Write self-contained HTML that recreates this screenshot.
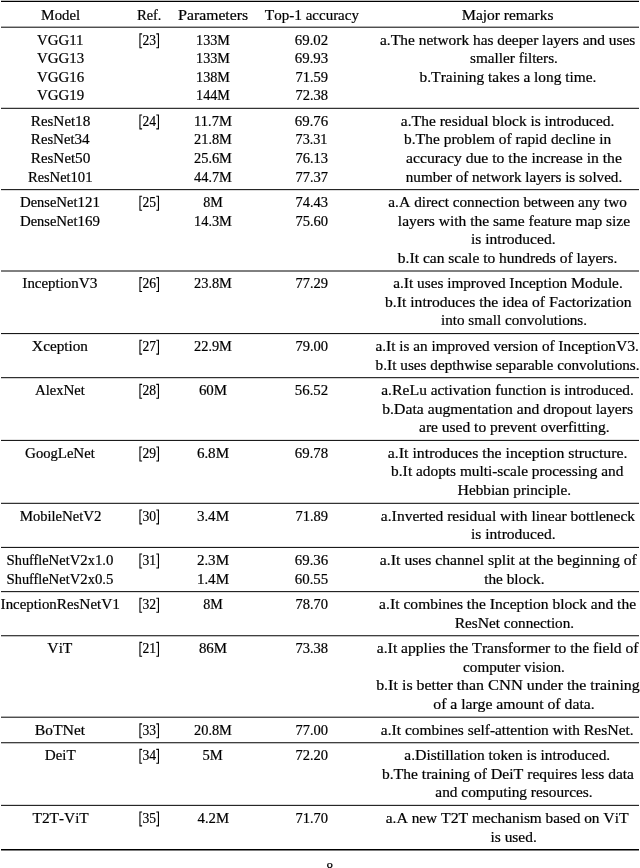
<!DOCTYPE html>
<html><head><meta charset="utf-8"><style>
html,body{margin:0;padding:0;background:#fff;width:640px;height:868px;overflow:hidden}
svg{display:block}
text{font-family:"Liberation Serif",serif;font-size:14.0px;text-anchor:middle;fill:#000;}
.B{font-size:14.5px}
svg{will-change:transform} text{stroke:#000;stroke-width:0.2px}
</style></head><body>
<svg width="640" height="868" viewBox="0 0 640 868">
<path d="M1 1.4H639" stroke="#000" stroke-width="1.15"/>
<path d="M1 27.20H639" stroke="#000" stroke-width="1.0"/>
<path d="M1 108.30H639" stroke="#000" stroke-width="1.0"/>
<path d="M1 189.65H639" stroke="#000" stroke-width="1.0"/>
<path d="M1 271.00H639" stroke="#000" stroke-width="1.0"/>
<path d="M1 333.60H639" stroke="#000" stroke-width="1.0"/>
<path d="M1 377.70H639" stroke="#000" stroke-width="1.0"/>
<path d="M1 440.40H639" stroke="#000" stroke-width="1.0"/>
<path d="M1 503.30H639" stroke="#000" stroke-width="1.0"/>
<path d="M1 547.40H639" stroke="#000" stroke-width="1.0"/>
<path d="M1 591.65H639" stroke="#000" stroke-width="1.0"/>
<path d="M1 635.75H639" stroke="#000" stroke-width="1.0"/>
<path d="M1 717.20H639" stroke="#000" stroke-width="1.0"/>
<path d="M1 742.75H639" stroke="#000" stroke-width="1.0"/>
<path d="M1 805.35H639" stroke="#000" stroke-width="1.0"/>
<path d="M1 849.80H639" stroke="#000" stroke-width="1.45"/>
<text id="h0" x="60.60" y="19.60" textLength="38.98" lengthAdjust="spacingAndGlyphs"><tspan class="B">M</tspan>odel</text>
<text id="h1" x="149.20" y="19.60" textLength="24.52" lengthAdjust="spacingAndGlyphs"><tspan class="B">R</tspan>ef.</text>
<text id="h2" x="213.00" y="19.60" textLength="70.06" lengthAdjust="spacingAndGlyphs"><tspan class="B">P</tspan>arameters</text>
<text id="h3" x="311.85" y="19.60" textLength="94.10" lengthAdjust="spacingAndGlyphs"><tspan class="B">T</tspan>op-<tspan class="B">1</tspan> accuracy</text>
<text id="h4" x="507.60" y="19.60" textLength="91.80" lengthAdjust="spacingAndGlyphs"><tspan class="B">M</tspan>ajor remarks</text>
<text id="r0m0" x="60.25" y="44.55" textLength="46.42" lengthAdjust="spacingAndGlyphs"><tspan class="B">VGG11</tspan></text>
<text id="r0m1" x="60.60" y="63.08" textLength="47.14" lengthAdjust="spacingAndGlyphs"><tspan class="B">VGG13</tspan></text>
<text id="r0m2" x="60.60" y="81.62" textLength="47.14" lengthAdjust="spacingAndGlyphs"><tspan class="B">VGG16</tspan></text>
<text id="r0m3" x="60.60" y="100.15" textLength="47.14" lengthAdjust="spacingAndGlyphs"><tspan class="B">VGG19</tspan></text>
<path d="M142.10 33.85H139.95V47.75H142.10" fill="none" stroke="#000" stroke-width="1.1"/>
<path d="M156.30 33.85H158.45V47.75H156.30" fill="none" stroke="#000" stroke-width="1.1"/>
<text id="r0ref" x="149.20" y="44.55" class="B" textLength="13.6" lengthAdjust="spacingAndGlyphs">23</text>
<text id="r0p0" x="213.00" y="44.55" textLength="33.86" lengthAdjust="spacingAndGlyphs"><tspan class="B">133M</tspan></text>
<text id="r0p1" x="213.00" y="63.08" textLength="33.86" lengthAdjust="spacingAndGlyphs"><tspan class="B">133M</tspan></text>
<text id="r0p2" x="213.00" y="81.62" textLength="33.86" lengthAdjust="spacingAndGlyphs"><tspan class="B">138M</tspan></text>
<text id="r0p3" x="213.00" y="100.15" textLength="33.86" lengthAdjust="spacingAndGlyphs"><tspan class="B">144M</tspan></text>
<text id="r0a0" x="311.50" y="44.55" textLength="33.32" lengthAdjust="spacingAndGlyphs"><tspan class="B">69</tspan>.<tspan class="B">02</tspan></text>
<text id="r0a1" x="311.50" y="63.08" textLength="33.32" lengthAdjust="spacingAndGlyphs"><tspan class="B">69</tspan>.<tspan class="B">93</tspan></text>
<text id="r0a2" x="311.85" y="81.62" textLength="32.60" lengthAdjust="spacingAndGlyphs"><tspan class="B">71</tspan>.<tspan class="B">59</tspan></text>
<text id="r0a3" x="311.85" y="100.15" textLength="32.60" lengthAdjust="spacingAndGlyphs"><tspan class="B">72</tspan>.<tspan class="B">38</tspan></text>
<text id="r0x0" x="507.60" y="44.55" textLength="255.25" lengthAdjust="spacingAndGlyphs">a.<tspan class="B">T</tspan>he network has deeper layers and uses</text>
<text id="r0x1" x="514.00" y="63.08" textLength="87.83" lengthAdjust="spacingAndGlyphs">smaller filters.</text>
<text id="r0x2" x="507.95" y="81.62" textLength="176.89" lengthAdjust="spacingAndGlyphs">b.<tspan class="B">T</tspan>raining takes a long time.</text>
<text id="r1m0" x="60.60" y="125.65" textLength="59.52" lengthAdjust="spacingAndGlyphs"><tspan class="B">R</tspan>es<tspan class="B">N</tspan>et<tspan class="B">18</tspan></text>
<text id="r1m1" x="60.25" y="144.27" textLength="58.82" lengthAdjust="spacingAndGlyphs"><tspan class="B">R</tspan>es<tspan class="B">N</tspan>et<tspan class="B">34</tspan></text>
<text id="r1m2" x="60.60" y="162.88" textLength="59.52" lengthAdjust="spacingAndGlyphs"><tspan class="B">R</tspan>es<tspan class="B">N</tspan>et<tspan class="B">50</tspan></text>
<text id="r1m3" x="60.25" y="181.50" textLength="64.55" lengthAdjust="spacingAndGlyphs"><tspan class="B">R</tspan>es<tspan class="B">N</tspan>et<tspan class="B">101</tspan></text>
<path d="M142.10 114.95H139.95V128.85H142.10" fill="none" stroke="#000" stroke-width="1.1"/>
<path d="M156.30 114.95H158.45V128.85H156.30" fill="none" stroke="#000" stroke-width="1.1"/>
<text id="r1ref" x="149.20" y="125.65" class="B" textLength="13.6" lengthAdjust="spacingAndGlyphs">24</text>
<text id="r1p0" x="213.00" y="125.65" textLength="37.85" lengthAdjust="spacingAndGlyphs"><tspan class="B">11</tspan>.<tspan class="B">7M</tspan></text>
<text id="r1p1" x="213.00" y="144.27" textLength="37.87" lengthAdjust="spacingAndGlyphs"><tspan class="B">21</tspan>.<tspan class="B">8M</tspan></text>
<text id="r1p2" x="213.00" y="162.88" textLength="37.87" lengthAdjust="spacingAndGlyphs"><tspan class="B">25</tspan>.<tspan class="B">6M</tspan></text>
<text id="r1p3" x="213.00" y="181.50" textLength="37.87" lengthAdjust="spacingAndGlyphs"><tspan class="B">44</tspan>.<tspan class="B">7M</tspan></text>
<text id="r1a0" x="311.50" y="125.65" textLength="33.32" lengthAdjust="spacingAndGlyphs"><tspan class="B">69</tspan>.<tspan class="B">76</tspan></text>
<text id="r1a1" x="311.50" y="144.27" textLength="31.88" lengthAdjust="spacingAndGlyphs"><tspan class="B">73</tspan>.<tspan class="B">31</tspan></text>
<text id="r1a2" x="311.85" y="162.88" textLength="32.60" lengthAdjust="spacingAndGlyphs"><tspan class="B">76</tspan>.<tspan class="B">13</tspan></text>
<text id="r1a3" x="311.85" y="181.50" textLength="32.60" lengthAdjust="spacingAndGlyphs"><tspan class="B">77</tspan>.<tspan class="B">37</tspan></text>
<text id="r1x0" x="507.60" y="125.65" textLength="213.54" lengthAdjust="spacingAndGlyphs">a.<tspan class="B">T</tspan>he residual block is introduced.</text>
<text id="r1x1" x="507.60" y="144.27" textLength="207.04" lengthAdjust="spacingAndGlyphs">b.<tspan class="B">T</tspan>he problem of rapid decline in</text>
<text id="r1x2" x="514.00" y="162.88" textLength="215.83" lengthAdjust="spacingAndGlyphs">accuracy due to the increase in the</text>
<text id="r1x3" x="514.00" y="181.50" textLength="216.41" lengthAdjust="spacingAndGlyphs">number of network layers is solved.</text>
<text id="r2m0" x="59.90" y="207.00" textLength="79.99" lengthAdjust="spacingAndGlyphs"><tspan class="B">D</tspan>ense<tspan class="B">N</tspan>et<tspan class="B">121</tspan></text>
<text id="r2m1" x="59.90" y="225.62" textLength="80.01" lengthAdjust="spacingAndGlyphs"><tspan class="B">D</tspan>ense<tspan class="B">N</tspan>et<tspan class="B">169</tspan></text>
<path d="M142.10 196.30H139.95V210.20H142.10" fill="none" stroke="#000" stroke-width="1.1"/>
<path d="M156.30 196.30H158.45V210.20H156.30" fill="none" stroke="#000" stroke-width="1.1"/>
<text id="r2ref" x="149.20" y="207.00" class="B" textLength="13.6" lengthAdjust="spacingAndGlyphs">25</text>
<text id="r2p0" x="213.00" y="207.00" textLength="19.56" lengthAdjust="spacingAndGlyphs"><tspan class="B">8M</tspan></text>
<text id="r2p1" x="213.00" y="225.62" textLength="37.85" lengthAdjust="spacingAndGlyphs"><tspan class="B">14</tspan>.<tspan class="B">3M</tspan></text>
<text id="r2a0" x="311.85" y="207.00" textLength="32.60" lengthAdjust="spacingAndGlyphs"><tspan class="B">74</tspan>.<tspan class="B">43</tspan></text>
<text id="r2a1" x="311.85" y="225.62" textLength="32.60" lengthAdjust="spacingAndGlyphs"><tspan class="B">75</tspan>.<tspan class="B">60</tspan></text>
<text id="r2x0" x="507.60" y="207.00" textLength="238.55" lengthAdjust="spacingAndGlyphs">a.<tspan class="B">A</tspan> direct connection between any two</text>
<text id="r2x1" x="514.00" y="225.62" textLength="232.26" lengthAdjust="spacingAndGlyphs">layers with the same feature map size</text>
<text id="r2x2" x="513.30" y="244.23" textLength="84.55" lengthAdjust="spacingAndGlyphs">is introduced.</text>
<text id="r2x3" x="507.60" y="262.85" textLength="219.57" lengthAdjust="spacingAndGlyphs">b.<tspan class="B">I</tspan>t can scale to hundreds of layers.</text>
<text id="r3m0" x="59.90" y="288.35" textLength="75.19" lengthAdjust="spacingAndGlyphs"><tspan class="B">I</tspan>nception<tspan class="B">V3</tspan></text>
<path d="M142.10 277.65H139.95V291.55H142.10" fill="none" stroke="#000" stroke-width="1.1"/>
<path d="M156.30 277.65H158.45V291.55H156.30" fill="none" stroke="#000" stroke-width="1.1"/>
<text id="r3ref" x="149.20" y="288.35" class="B" textLength="13.6" lengthAdjust="spacingAndGlyphs">26</text>
<text id="r3p0" x="213.00" y="288.35" textLength="37.87" lengthAdjust="spacingAndGlyphs"><tspan class="B">23</tspan>.<tspan class="B">8M</tspan></text>
<text id="r3a0" x="311.85" y="288.35" textLength="32.60" lengthAdjust="spacingAndGlyphs"><tspan class="B">77</tspan>.<tspan class="B">29</tspan></text>
<text id="r3x0" x="507.95" y="288.35" textLength="229.50" lengthAdjust="spacingAndGlyphs">a.<tspan class="B">I</tspan>t uses improved <tspan class="B">I</tspan>nception <tspan class="B">M</tspan>odule.</text>
<text id="r3x1" x="508.30" y="306.90" textLength="246.70" lengthAdjust="spacingAndGlyphs">b.<tspan class="B">I</tspan>t introduces the idea of <tspan class="B">F</tspan>actorization</text>
<text id="r3x2" x="514.00" y="325.45" textLength="146.02" lengthAdjust="spacingAndGlyphs">into small convolutions.</text>
<text id="r4m0" x="59.90" y="350.95" textLength="56.10" lengthAdjust="spacingAndGlyphs"><tspan class="B">X</tspan>ception</text>
<path d="M142.10 340.25H139.95V354.15H142.10" fill="none" stroke="#000" stroke-width="1.1"/>
<path d="M156.30 340.25H158.45V354.15H156.30" fill="none" stroke="#000" stroke-width="1.1"/>
<text id="r4ref" x="149.20" y="350.95" class="B" textLength="13.6" lengthAdjust="spacingAndGlyphs">27</text>
<text id="r4p0" x="213.00" y="350.95" textLength="37.87" lengthAdjust="spacingAndGlyphs"><tspan class="B">22</tspan>.<tspan class="B">9M</tspan></text>
<text id="r4a0" x="311.85" y="350.95" textLength="32.60" lengthAdjust="spacingAndGlyphs"><tspan class="B">79</tspan>.<tspan class="B">00</tspan></text>
<text id="r4x0" x="507.25" y="350.95" textLength="263.36" lengthAdjust="spacingAndGlyphs">a.<tspan class="B">I</tspan>t is an improved version of <tspan class="B">I</tspan>nception<tspan class="B">V3</tspan>.</text>
<text id="r4x1" x="507.60" y="369.55" textLength="264.02" lengthAdjust="spacingAndGlyphs">b.<tspan class="B">I</tspan>t uses depthwise separable convolutions.</text>
<text id="r5m0" x="59.90" y="395.05" textLength="49.89" lengthAdjust="spacingAndGlyphs"><tspan class="B">A</tspan>lex<tspan class="B">N</tspan>et</text>
<path d="M142.10 384.35H139.95V398.25H142.10" fill="none" stroke="#000" stroke-width="1.1"/>
<path d="M156.30 384.35H158.45V398.25H156.30" fill="none" stroke="#000" stroke-width="1.1"/>
<text id="r5ref" x="149.20" y="395.05" class="B" textLength="13.6" lengthAdjust="spacingAndGlyphs">28</text>
<text id="r5p0" x="213.00" y="395.05" textLength="28.15" lengthAdjust="spacingAndGlyphs"><tspan class="B">60M</tspan></text>
<text id="r5a0" x="311.50" y="395.05" textLength="33.32" lengthAdjust="spacingAndGlyphs"><tspan class="B">56</tspan>.<tspan class="B">52</tspan></text>
<text id="r5x0" x="507.60" y="395.05" textLength="252.60" lengthAdjust="spacingAndGlyphs">a.<tspan class="B">R</tspan>e<tspan class="B">L</tspan>u activation function is introduced.</text>
<text id="r5x1" x="507.60" y="413.65" textLength="250.88" lengthAdjust="spacingAndGlyphs">b.<tspan class="B">D</tspan>ata augmentation and dropout layers</text>
<text id="r5x2" x="514.35" y="432.25" textLength="190.70" lengthAdjust="spacingAndGlyphs">are used to prevent overfitting.</text>
<text id="r6m0" x="59.90" y="457.75" textLength="69.69" lengthAdjust="spacingAndGlyphs"><tspan class="B">G</tspan>oog<tspan class="B">L</tspan>e<tspan class="B">N</tspan>et</text>
<path d="M142.10 447.05H139.95V460.95H142.10" fill="none" stroke="#000" stroke-width="1.1"/>
<path d="M156.30 447.05H158.45V460.95H156.30" fill="none" stroke="#000" stroke-width="1.1"/>
<text id="r6ref" x="149.20" y="457.75" class="B" textLength="13.6" lengthAdjust="spacingAndGlyphs">29</text>
<text id="r6p0" x="213.00" y="457.75" textLength="32.14" lengthAdjust="spacingAndGlyphs"><tspan class="B">6</tspan>.<tspan class="B">8M</tspan></text>
<text id="r6a0" x="311.50" y="457.75" textLength="33.32" lengthAdjust="spacingAndGlyphs"><tspan class="B">69</tspan>.<tspan class="B">78</tspan></text>
<text id="r6x0" x="507.60" y="457.75" textLength="239.84" lengthAdjust="spacingAndGlyphs">a.<tspan class="B">I</tspan>t introduces the inception structure.</text>
<text id="r6x1" x="507.25" y="476.45" textLength="232.22" lengthAdjust="spacingAndGlyphs">b.<tspan class="B">I</tspan>t adopts multi-scale processing and</text>
<text id="r6x2" x="514.35" y="495.15" textLength="113.62" lengthAdjust="spacingAndGlyphs"><tspan class="B">H</tspan>ebbian principle.</text>
<text id="r7m0" x="60.60" y="520.65" textLength="81.72" lengthAdjust="spacingAndGlyphs"><tspan class="B">M</tspan>obile<tspan class="B">N</tspan>et<tspan class="B">V2</tspan></text>
<path d="M142.10 509.95H139.95V523.85H142.10" fill="none" stroke="#000" stroke-width="1.1"/>
<path d="M156.30 509.95H158.45V523.85H156.30" fill="none" stroke="#000" stroke-width="1.1"/>
<text id="r7ref" x="149.20" y="520.65" class="B" textLength="13.6" lengthAdjust="spacingAndGlyphs">30</text>
<text id="r7p0" x="213.00" y="520.65" textLength="32.14" lengthAdjust="spacingAndGlyphs"><tspan class="B">3</tspan>.<tspan class="B">4M</tspan></text>
<text id="r7a0" x="311.85" y="520.65" textLength="32.60" lengthAdjust="spacingAndGlyphs"><tspan class="B">71</tspan>.<tspan class="B">89</tspan></text>
<text id="r7x0" x="507.95" y="520.65" textLength="254.20" lengthAdjust="spacingAndGlyphs">a.<tspan class="B">I</tspan>nverted residual with linear bottleneck</text>
<text id="r7x1" x="513.30" y="539.25" textLength="84.55" lengthAdjust="spacingAndGlyphs">is introduced.</text>
<text id="r8m0" x="59.90" y="564.75" textLength="106.80" lengthAdjust="spacingAndGlyphs"><tspan class="B">S</tspan>huffle<tspan class="B">N</tspan>et<tspan class="B">V2</tspan>x<tspan class="B">1</tspan>.<tspan class="B">0</tspan></text>
<text id="r8m1" x="59.90" y="583.50" textLength="106.80" lengthAdjust="spacingAndGlyphs"><tspan class="B">S</tspan>huffle<tspan class="B">N</tspan>et<tspan class="B">V2</tspan>x<tspan class="B">0</tspan>.<tspan class="B">5</tspan></text>
<path d="M142.10 554.05H139.95V567.95H142.10" fill="none" stroke="#000" stroke-width="1.1"/>
<path d="M156.30 554.05H158.45V567.95H156.30" fill="none" stroke="#000" stroke-width="1.1"/>
<text id="r8ref" x="149.20" y="564.75" class="B" textLength="13.6" lengthAdjust="spacingAndGlyphs">31</text>
<text id="r8p0" x="213.00" y="564.75" textLength="32.14" lengthAdjust="spacingAndGlyphs"><tspan class="B">2</tspan>.<tspan class="B">3M</tspan></text>
<text id="r8p1" x="213.00" y="583.50" textLength="32.11" lengthAdjust="spacingAndGlyphs"><tspan class="B">1</tspan>.<tspan class="B">4M</tspan></text>
<text id="r8a0" x="311.50" y="564.75" textLength="33.32" lengthAdjust="spacingAndGlyphs"><tspan class="B">69</tspan>.<tspan class="B">36</tspan></text>
<text id="r8a1" x="311.50" y="583.50" textLength="33.32" lengthAdjust="spacingAndGlyphs"><tspan class="B">60</tspan>.<tspan class="B">55</tspan></text>
<text id="r8x0" x="508.30" y="564.75" textLength="256.93" lengthAdjust="spacingAndGlyphs">a.<tspan class="B">I</tspan>t uses channel split at the beginning of</text>
<text id="r8x1" x="514.35" y="583.50" textLength="60.24" lengthAdjust="spacingAndGlyphs">the block.</text>
<text id="r9m0" x="60.25" y="609.00" textLength="119.47" lengthAdjust="spacingAndGlyphs"><tspan class="B">I</tspan>nception<tspan class="B">R</tspan>es<tspan class="B">N</tspan>et<tspan class="B">V1</tspan></text>
<path d="M142.10 598.30H139.95V612.20H142.10" fill="none" stroke="#000" stroke-width="1.1"/>
<path d="M156.30 598.30H158.45V612.20H156.30" fill="none" stroke="#000" stroke-width="1.1"/>
<text id="r9ref" x="149.20" y="609.00" class="B" textLength="13.6" lengthAdjust="spacingAndGlyphs">32</text>
<text id="r9p0" x="213.00" y="609.00" textLength="19.56" lengthAdjust="spacingAndGlyphs"><tspan class="B">8M</tspan></text>
<text id="r9a0" x="311.85" y="609.00" textLength="32.60" lengthAdjust="spacingAndGlyphs"><tspan class="B">78</tspan>.<tspan class="B">70</tspan></text>
<text id="r9x0" x="507.60" y="609.00" textLength="256.92" lengthAdjust="spacingAndGlyphs">a.<tspan class="B">I</tspan>t combines the <tspan class="B">I</tspan>nception block and the</text>
<text id="r9x1" x="514.35" y="627.60" textLength="119.38" lengthAdjust="spacingAndGlyphs"><tspan class="B">R</tspan>es<tspan class="B">N</tspan>et connection.</text>
<text id="r10m0" x="59.90" y="653.10" textLength="25.06" lengthAdjust="spacingAndGlyphs"><tspan class="B">V</tspan>i<tspan class="B">T</tspan></text>
<path d="M142.10 642.40H139.95V656.30H142.10" fill="none" stroke="#000" stroke-width="1.1"/>
<path d="M156.30 642.40H158.45V656.30H156.30" fill="none" stroke="#000" stroke-width="1.1"/>
<text id="r10ref" x="149.20" y="653.10" class="B" textLength="13.6" lengthAdjust="spacingAndGlyphs">21</text>
<text id="r10p0" x="213.00" y="653.10" textLength="28.15" lengthAdjust="spacingAndGlyphs"><tspan class="B">86M</tspan></text>
<text id="r10a0" x="311.85" y="653.10" textLength="32.60" lengthAdjust="spacingAndGlyphs"><tspan class="B">73</tspan>.<tspan class="B">38</tspan></text>
<text id="r10x0" x="507.60" y="653.10" textLength="261.76" lengthAdjust="spacingAndGlyphs">a.<tspan class="B">I</tspan>t applies the <tspan class="B">T</tspan>ransformer to the field of</text>
<text id="r10x1" x="514.00" y="671.75" textLength="101.83" lengthAdjust="spacingAndGlyphs">computer vision.</text>
<text id="r10x2" x="507.95" y="690.40" textLength="263.55" lengthAdjust="spacingAndGlyphs">b.<tspan class="B">I</tspan>t is better than <tspan class="B">CNN</tspan> under the training</text>
<text id="r10x3" x="514.00" y="709.05" textLength="161.42" lengthAdjust="spacingAndGlyphs">of a large amount of data.</text>
<text id="r11m0" x="59.90" y="734.55" textLength="50.31" lengthAdjust="spacingAndGlyphs"><tspan class="B">B</tspan>o<tspan class="B">TN</tspan>et</text>
<path d="M142.10 723.85H139.95V737.75H142.10" fill="none" stroke="#000" stroke-width="1.1"/>
<path d="M156.30 723.85H158.45V737.75H156.30" fill="none" stroke="#000" stroke-width="1.1"/>
<text id="r11ref" x="149.20" y="734.55" class="B" textLength="13.6" lengthAdjust="spacingAndGlyphs">33</text>
<text id="r11p0" x="213.00" y="734.55" textLength="37.87" lengthAdjust="spacingAndGlyphs"><tspan class="B">20</tspan>.<tspan class="B">8M</tspan></text>
<text id="r11a0" x="311.85" y="734.55" textLength="32.60" lengthAdjust="spacingAndGlyphs"><tspan class="B">77</tspan>.<tspan class="B">00</tspan></text>
<text id="r11x0" x="507.25" y="734.55" textLength="252.78" lengthAdjust="spacingAndGlyphs">a.<tspan class="B">I</tspan>t combines self-attention with <tspan class="B">R</tspan>es<tspan class="B">N</tspan>et.</text>
<text id="r12m0" x="60.25" y="760.10" textLength="30.89" lengthAdjust="spacingAndGlyphs"><tspan class="B">D</tspan>ei<tspan class="B">T</tspan></text>
<path d="M142.10 749.40H139.95V763.30H142.10" fill="none" stroke="#000" stroke-width="1.1"/>
<path d="M156.30 749.40H158.45V763.30H156.30" fill="none" stroke="#000" stroke-width="1.1"/>
<text id="r12ref" x="149.20" y="760.10" class="B" textLength="13.6" lengthAdjust="spacingAndGlyphs">34</text>
<text id="r12p0" x="212.65" y="760.10" textLength="20.26" lengthAdjust="spacingAndGlyphs"><tspan class="B">5M</tspan></text>
<text id="r12a0" x="311.85" y="760.10" textLength="32.60" lengthAdjust="spacingAndGlyphs"><tspan class="B">72</tspan>.<tspan class="B">20</tspan></text>
<text id="r12x0" x="507.25" y="760.10" textLength="205.85" lengthAdjust="spacingAndGlyphs">a.<tspan class="B">D</tspan>istillation token is introduced.</text>
<text id="r12x1" x="507.95" y="778.65" textLength="252.15" lengthAdjust="spacingAndGlyphs">b.<tspan class="B">T</tspan>he training of <tspan class="B">D</tspan>ei<tspan class="B">T</tspan> requires less data</text>
<text id="r12x2" x="514.00" y="797.20" textLength="157.24" lengthAdjust="spacingAndGlyphs">and computing resources.</text>
<text id="r13m0" x="60.60" y="822.70" textLength="56.27" lengthAdjust="spacingAndGlyphs"><tspan class="B">T2T</tspan>-<tspan class="B">V</tspan>i<tspan class="B">T</tspan></text>
<path d="M142.10 812.00H139.95V825.90H142.10" fill="none" stroke="#000" stroke-width="1.1"/>
<path d="M156.30 812.00H158.45V825.90H156.30" fill="none" stroke="#000" stroke-width="1.1"/>
<text id="r13ref" x="149.20" y="822.70" class="B" textLength="13.6" lengthAdjust="spacingAndGlyphs">35</text>
<text id="r13p0" x="213.35" y="822.70" textLength="31.44" lengthAdjust="spacingAndGlyphs"><tspan class="B">4</tspan>.<tspan class="B">2M</tspan></text>
<text id="r13a0" x="311.85" y="822.70" textLength="32.60" lengthAdjust="spacingAndGlyphs"><tspan class="B">71</tspan>.<tspan class="B">70</tspan></text>
<text id="r13x0" x="507.25" y="822.70" textLength="242.95" lengthAdjust="spacingAndGlyphs">a.<tspan class="B">A</tspan> new <tspan class="B">T2T</tspan> mechanism based on <tspan class="B">V</tspan>i<tspan class="B">T</tspan></text>
<text id="r13x1" x="513.65" y="841.65" textLength="46.27" lengthAdjust="spacingAndGlyphs">is used.</text>
<text id="pg" x="329.7" y="872.5">8</text>
</svg>
</body></html>
